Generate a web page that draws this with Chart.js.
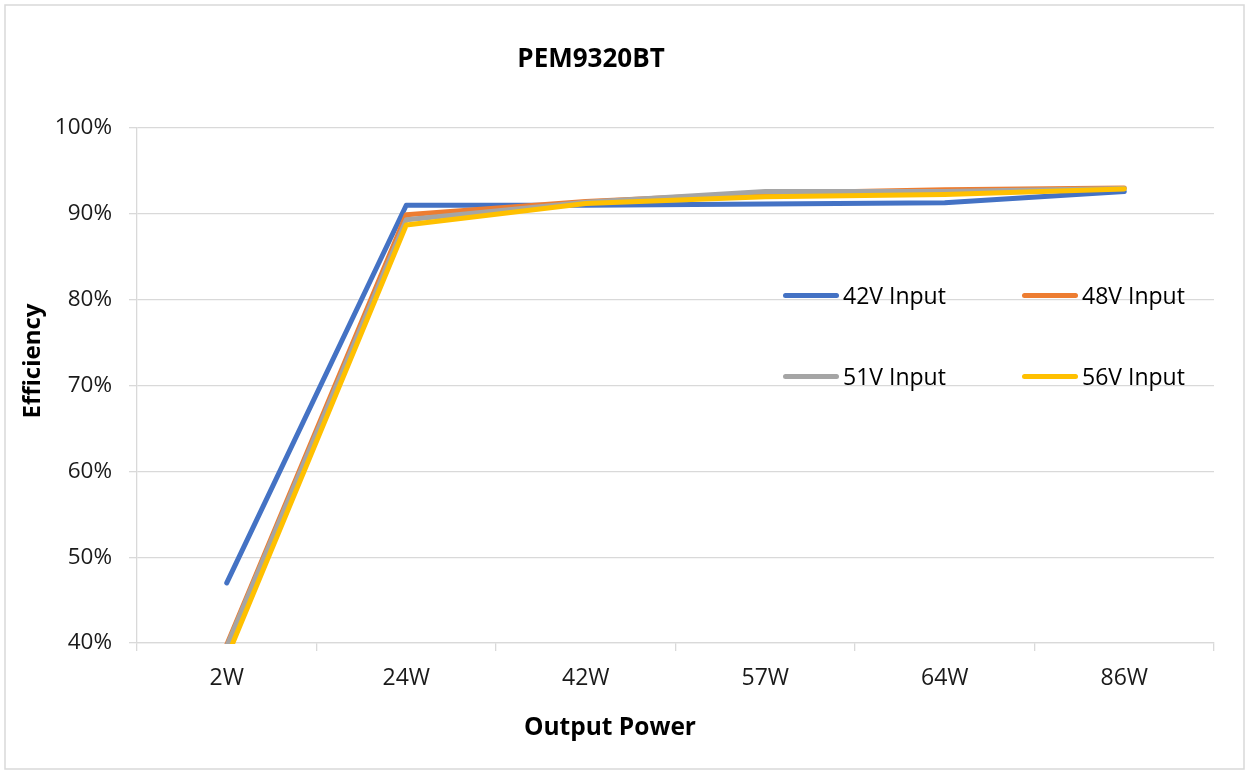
<!DOCTYPE html>
<html>
<head>
<meta charset="utf-8">
<script src="https://cdn.jsdelivr.net/npm/chart.js@4/dist/chart.umd.min.js"></script>
<style>
  html, body { margin: 0; padding: 0; background: #ffffff; }
  #wrap { position: relative; width: 1249px; height: 774px; }
  canvas { position: absolute; left: 0; top: 0; }
  .lg { position: absolute; font-family: "Open Sans", sans-serif; font-size: 23px; color: #000; line-height: 30px; white-space: nowrap; }
  .lgline { position: absolute; height: 5px; border-radius: 3px; }
</style>
</head>
<body>
<div id="wrap"><canvas id="c" width="1249" height="774"></canvas></div>
<script>
// ---- data ----
const chartTitle = "PEM9320BT";
const xTitle = "Output Power";
const yTitle = "Efficiency";
const categories = ["2W", "24W", "42W", "57W", "64W", "86W"];
const seriesLabels = ["42V Input", "48V Input", "51V Input", "56V Input"];
const seriesColors = ["#4472C4", "#ED7D31", "#A5A5A5", "#FFC000"];
const eff42V = [47.0, 91.0, 91.0, 91.15, 91.3, 92.6];
const eff48V = [39.8, 89.9, 91.45, 92.4, 92.8, 93.0];
const eff51V = [39.6, 89.3, 91.35, 92.6, 92.6, 92.95];
const eff56V = [38.3, 88.7, 91.2, 92.0, 92.25, 92.9];
const yTicks = [40, 50, 60, 70, 80, 90, 100];

const seriesData = [eff42V, eff48V, eff51V, eff56V];
const FONT = '"Open Sans", sans-serif';

const datasets = seriesLabels.map((lab, i) => ({
  label: lab,
  data: seriesData[i],
  borderColor: seriesColors[i],
  backgroundColor: seriesColors[i],
  borderWidth: 5,
  pointRadius: 0,
  pointHoverRadius: 0,
  tension: 0,
  fill: false,
  borderCapStyle: 'round',
  borderJoinStyle: 'round',
  clip: 1,
  order: seriesLabels.length - i
}));

const decorPlugin = {
  id: 'decor',
  beforeDraw(chart) {
    const ctx = chart.ctx;
    ctx.save();
    ctx.fillStyle = '#ffffff';
    ctx.fillRect(0, 0, chart.width, chart.height);
    ctx.strokeStyle = '#d9d9d9';
    ctx.lineWidth = 1.5;
    ctx.strokeRect(5, 5, chart.width - 10, chart.height - 10);
    ctx.restore();
  },
  afterDraw(chart) {
    const ctx = chart.ctx;
    ctx.save();
    ctx.fillStyle = '#000000';
    ctx.textAlign = 'center';
    ctx.textBaseline = 'middle';
    ctx.font = 'bold 26px ' + FONT;
    ctx.fillText(chartTitle, 591, 60);
    ctx.font = 'bold 24.5px ' + FONT;
    ctx.fillText(xTitle, 610, 728);
    ctx.font = 'bold 24px ' + FONT;
    ctx.translate(33, 361);
    ctx.rotate(-Math.PI / 2);
    ctx.fillText(yTitle, 0, 0);
    ctx.restore();
  }
};

new Chart(document.getElementById('c'), {
  type: 'line',
  data: { labels: categories, datasets },
  options: {
    responsive: false,
    animation: false,
    events: [],
    layout: { padding: { left: 0, right: 35, top: 128, bottom: 0 } },
    plugins: { legend: { display: false }, title: { display: false }, tooltip: { enabled: false } },
    scales: {
      x: {
        offset: true,
        grid: { offset: true, drawOnChartArea: false, drawTicks: true, tickLength: 8, color: '#d9d9d9', lineWidth: 1.3 },
        border: { display: true, color: '#d9d9d9', width: 1.3 },
        ticks: { color: '#1a1a1a', font: { family: FONT, size: 23 }, padding: 14, maxRotation: 0 },
        afterFit(scale) { scale.height = 774 - 643; }
      },
      y: {
        min: 40, max: 100,
        afterBuildTicks(scale) { scale.ticks = yTicks.map(v => ({ value: v })); },
        grid: { color: '#d9d9d9', lineWidth: 1.3, tickLength: 8, drawTicks: true },
        border: { display: true, color: '#d9d9d9', width: 1.3 },
        ticks: { color: '#1a1a1a', font: { family: FONT, size: 22.5 }, padding: 17, callback: v => v + '%' },
        afterFit(scale) { scale.width = 137; }
      }
    }
  },
  plugins: [decorPlugin]
});

// HTML legend placed inside the plot area
const wrap = document.getElementById('wrap');
seriesLabels.forEach((lab, i) => {
  const col = i % 2, row = Math.floor(i / 2);
  const lx = 783 + col * 239, cy = 295 + row * 81;
  const ln = document.createElement('div');
  ln.className = 'lgline';
  ln.style.left = lx + 'px';
  ln.style.top = (cy - 2.5) + 'px';
  ln.style.width = '56px';
  ln.style.background = seriesColors[i];
  wrap.appendChild(ln);
  const tx = document.createElement('div');
  tx.className = 'lg';
  tx.style.left = (lx + 60) + 'px';
  tx.style.top = (cy - 15) + 'px';
  tx.textContent = lab;
  wrap.appendChild(tx);
});
</script>
</body>
</html>
